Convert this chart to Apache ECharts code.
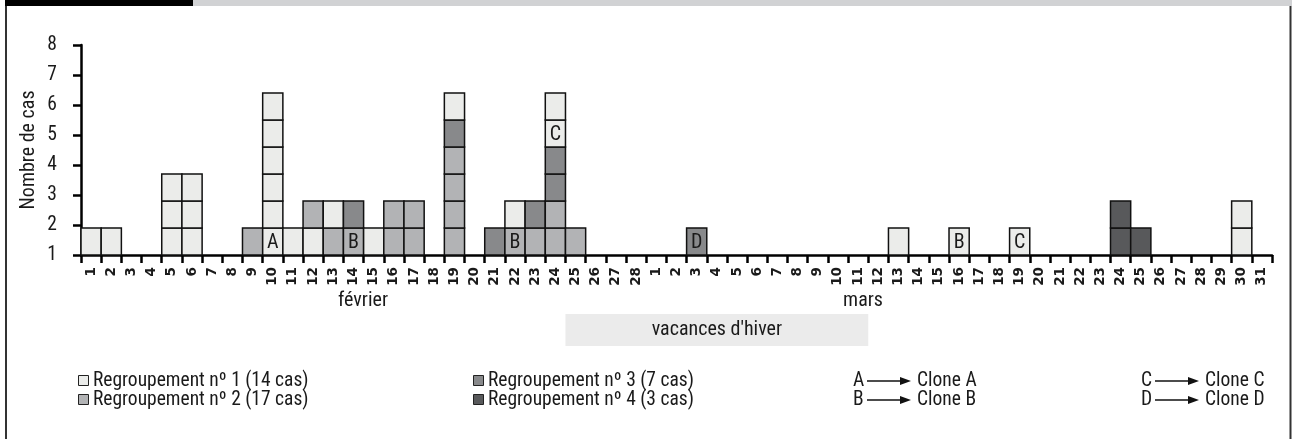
<!DOCTYPE html>
<html><head><meta charset="utf-8">
<script src="https://cdn.jsdelivr.net/npm/echarts@6/dist/echarts.min.js"></script>
<style>html,body{margin:0;padding:0;background:#fff}#c{width:1296px;height:439px}</style>
</head><body><div id="c"></div>
<script>
// ---- data ----
const febLabels = ['1','2','3','4','5','6','7','8','9','10','11','12','13','14','15','16','17','18','19','20','21','22','23','24','25','26','27','28'];
const marLabels = ['1','2','3','4','5','6','7','8','9','10','11','12','13','14','15','16','17','18','19','20','21','22','23','24','25','26','27','28','29','30','31'];
// cases per day, bottom to top, digit = regroupement (1..4)
const febCases = ['1','1','','','111','111','','','2','111111','1','12','21','23','1','22','22','','222231','','3','21','23','223311','2','','',''];
const marCases = ['','','3','','','','','','','','','','1','','','1','','','1','','','','','44','4','','','','','11',''];
// clone letters: [month, day, level (0 = bottom), letter]
const clones = [['fév',10,0,'A'],['fév',14,0,'B'],['fév',22,0,'B'],['fév',24,4,'C'],['mars',3,0,'D'],['mars',16,0,'B'],['mars',19,0,'C']];
const yTickLabels = ['1','2','3','4','5','6','7','8'];
const vacances = [['fév',25],['mars',11]];
const legendItems = ['Regroupement nº 1 (14 cas)','Regroupement nº 2 (17 cas)','Regroupement nº 3 (7 cas)','Regroupement nº 4 (3 cas)'];
const cloneItems = [['A','Clone A'],['B','Clone B'],['C','Clone C'],['D','Clone D']];

// ---- styling ----
const COLORS = {1:'#ebecea',2:'#b2b3b5',3:'#88898b',4:'#58595b'};
const CASE_H = 0.9;   // height of one case box in axis units
const FONT = '"Roboto Condensed","Liberation Sans",sans-serif';
const TXT = '#1a1a1a';

const categories = febLabels.map(d=>'fév '+d).concat(marLabels.map(d=>'mars '+d));
const dayIndex = (m,d) => m==='fév' ? d-1 : febLabels.length + d - 1;

const boxes = []; const boxLetters = [];
const addMonth = (arr, offset) => arr.forEach((s,i)=>{
  for (let k=0;k<s.length;k++){ boxes.push([offset+i, k, +s[k]]); boxLetters.push(''); }
});
addMonth(febCases,0); addMonth(marCases,febLabels.length);
clones.forEach(([m,d,lv,l])=>{
  const idx = boxes.findIndex(b=>b[0]===dayIndex(m,d) && b[1]===lv);
  if (idx>=0) boxLetters[idx]=l;
});

const chart = echarts.init(document.getElementById('c'), null, {renderer:'canvas'});

const gfx = [];
// top band and frame
gfx.push({type:'rect', shape:{x:5,y:0,width:188,height:6}, style:{fill:'#000'}});
gfx.push({type:'rect', shape:{x:193,y:0,width:1099,height:6}, style:{fill:'#d1d2d4'}});
gfx.push({type:'line', shape:{x1:6,y1:6,x2:6,y2:439}, style:{stroke:'#333',lineWidth:2}});
gfx.push({type:'line', shape:{x1:1290.5,y1:6,x2:1290.5,y2:439}, style:{stroke:'#333',lineWidth:2}});
// y axis name
gfx.push({type:'text', x:29, y:150, rotation:Math.PI/2, style:{text:'Nombre de cas', font:'20px '+FONT, fill:TXT, align:'center', verticalAlign:'middle'}});
// month labels
gfx.push({type:'text', x:363, y:301, style:{text:'février', font:'20px '+FONT, fill:TXT, align:'center', verticalAlign:'middle'}});
gfx.push({type:'text', x:863, y:301, style:{text:'mars', font:'20px '+FONT, fill:TXT, align:'center', verticalAlign:'middle'}});
// legend: regroupements
const legPos = [[78,381],[78,400],[473,381],[473,400]];
legendItems.forEach((t,i)=>{
  const [x,y]=legPos[i];
  gfx.push({type:'rect', shape:{x:x+0.5,y:y-5.5,width:10,height:10}, style:{fill:COLORS[i+1], stroke:'#222', lineWidth:1}});
  gfx.push({type:'text', x:x+15, y:y, style:{text:t, font:'19.5px '+FONT, fill:TXT, align:'left', verticalAlign:'middle'}});
});
// legend: clones
const clonePos = [[853,381],[853,400],[1141,381],[1141,400]];
cloneItems.forEach(([l,t],i)=>{
  const [x,y]=clonePos[i];
  gfx.push({type:'text', x:x, y:y, style:{text:l, font:'19.5px '+FONT, fill:TXT, align:'left', verticalAlign:'middle'}});
  gfx.push({type:'line', shape:{x1:x+14,y1:y,x2:x+50,y2:y}, style:{stroke:'#111',lineWidth:1.5}});
  gfx.push({type:'polygon', shape:{points:[[x+47,y-4],[x+58,y],[x+47,y+4]]}, style:{fill:'#111'}});
  gfx.push({type:'text', x:x+64, y:y, style:{text:t, font:'19.5px '+FONT, fill:TXT, align:'left', verticalAlign:'middle'}});
});

chart.setOption({
  animation:false,
  backgroundColor:'#fff',
  grid:[
    {left:81, right:24, top:45, height:210},
    {left:81, right:24, top:314, height:32}
  ],
  xAxis:[
    {type:'category', gridIndex:0, data:categories, boundaryGap:true,
     axisLine:{lineStyle:{color:'#000', width:2.5}},
     axisTick:{show:true, alignWithLabel:false, interval:0, length:8, lineStyle:{color:'#000', width:2.5}},
     axisLabel:{interval:0, rotate:90, margin:12, color:TXT, fontFamily:'DejaVu Sans', fontWeight:'bold', fontSize:13.5,
       formatter:v=>v.split(' ')[1]}},
    {type:'category', gridIndex:1, data:categories, show:false}
  ],
  yAxis:[
    {type:'value', gridIndex:0, min:0, max:7, interval:1,
     axisLine:{show:true, lineStyle:{color:'#000', width:2.5}},
     axisTick:{show:true, length:8, lineStyle:{color:'#000', width:2.5}},
     splitLine:{show:false},
     axisLabel:{margin:24, color:TXT, fontFamily:FONT, fontSize:19.5, formatter:v=>yTickLabels[v]}},
    {type:'value', gridIndex:1, min:0, max:1, show:false}
  ],
  series:[
    {type:'custom', xAxisIndex:0, yAxisIndex:0, clip:false, data:boxes,
     encode:{x:0,y:1},
     renderItem:(params, api)=>{
       const i=api.value(0), k=api.value(1), cl=api.value(2);
       const lo=api.coord([i, k*CASE_H]); const hi=api.coord([i,(k+1)*CASE_H]);
       const w=api.size([1,0])[0];
       const children=[{type:'rect', shape:{x:lo[0]-w/2, y:hi[1], width:w, height:lo[1]-hi[1]},
         style:{fill:COLORS[cl], stroke:'#111', lineWidth:1.5}}];
       const l=boxLetters[params.dataIndex];
       if (l) children.push({type:'text', x:lo[0], y:(lo[1]+hi[1])/2+1,
         style:{text:l, font:'20px '+FONT, fill:TXT, align:'center', verticalAlign:'middle'}});
       return {type:'group', children};
     }},
    {type:'custom', xAxisIndex:1, yAxisIndex:1, clip:false,
     data:[[dayIndex(...vacances[0]), dayIndex(...vacances[1])]],
     encode:{x:[0,1]},
     renderItem:(params, api)=>{
       const a=api.coord([api.value(0),0]); const b=api.coord([api.value(1),1]);
       const w=api.size([1,0])[0];
       const x0=a[0]-w/2, x1=b[0]+w/2;
       return {type:'group', children:[
         {type:'rect', shape:{x:x0, y:b[1], width:x1-x0, height:a[1]-b[1]}, style:{fill:'#ebebeb'}},
         {type:'text', x:(x0+x1)/2, y:(a[1]+b[1])/2, style:{text:"vacances d'hiver", font:'20px '+FONT, fill:TXT, align:'center', verticalAlign:'middle'}}
       ]};
     }}
  ],
  graphic:gfx
});
</script></body></html>
